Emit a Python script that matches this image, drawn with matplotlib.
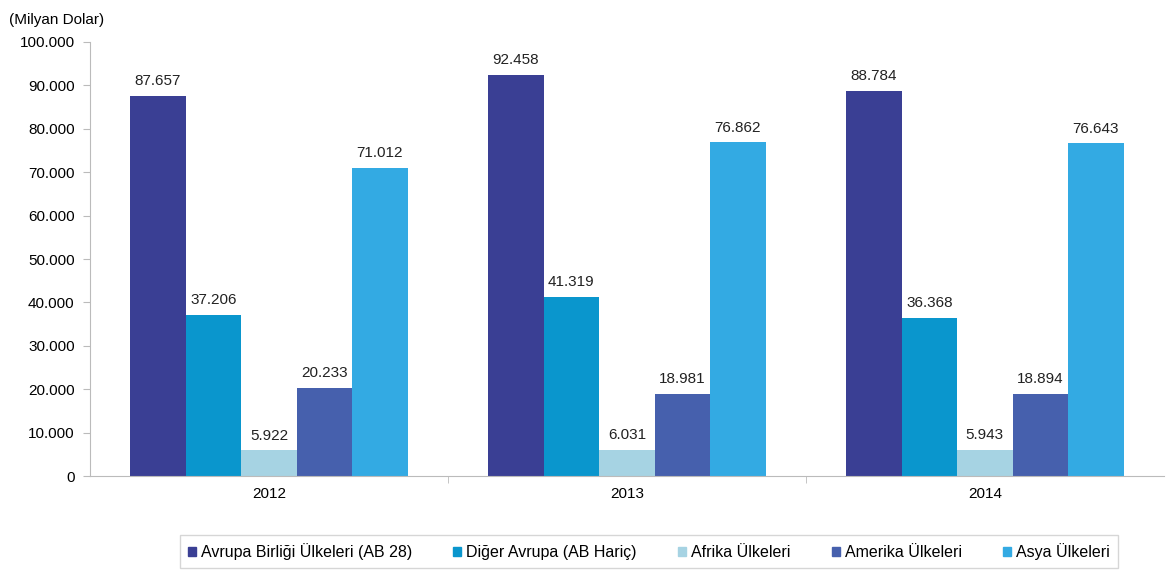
import numpy as np
import matplotlib.pyplot as plt
from matplotlib.patches import Patch

years = ["2012", "2013", "2014"]
series = ["Avrupa Birliği Ülkeleri (AB 28)", "Diğer Avrupa (AB Hariç)",
          "Afrika Ülkeleri", "Amerika Ülkeleri", "Asya Ülkeleri"]
ab28 = [87657, 92458, 88784]
diger_avrupa = [37206, 41319, 36368]
afrika = [5922, 6031, 5943]
amerika = [20233, 18981, 18894]
asya = [71012, 76862, 76643]
colors = ["#3A3F94", "#0A96CD", "#A6D3E3", "#4660AD", "#33AAE3"]

plt.rcParams["font.family"] = ["Liberation Sans", "DejaVu Sans"]

def fmt(v):
    return f"{v:,.0f}".replace(",", ".")

fig = plt.figure(figsize=(11.73, 5.72), dpi=100)
ax = fig.add_axes([0.0767, 0.1678, 0.9155, 0.7588])

x = np.arange(len(years))
w = 0.155
vals = [ab28, diger_avrupa, afrika, amerika, asya]
for i, (v, c) in enumerate(zip(vals, colors)):
    pos = x + (i - 2) * w
    ax.bar(pos, v, width=w, color=c, label=series[i])
    for px, pv in zip(pos, v):
        ax.text(px, pv + 1800, fmt(pv), ha="center", va="bottom", fontsize=11, color="#222222")

ax.set_xlim(-0.5, 2.5)
ax.set_ylim(0, 100000)
ax.set_yticks(np.arange(0, 100001, 10000))
ax.set_yticklabels([fmt(t) for t in np.arange(0, 100001, 10000)], fontsize=11)
ax.set_xticks(x)
ax.set_xticklabels(years, fontsize=11)
ax.tick_params(axis="x", length=0, pad=8)
ax.set_xticks([0.5, 1.5], minor=True)
ax.tick_params(axis="x", which="minor", length=5, color="#BBBBBB")
ax.tick_params(axis="y", length=5, color="#BBBBBB", pad=6)
for s in ["top", "right"]:
    ax.spines[s].set_visible(False)
for s in ["left", "bottom"]:
    ax.spines[s].set_color("#BBBBBB")

fig.text(0.008, 0.965, "(Milyan Dolar)", fontsize=11, ha="left", va="center")

handles = [Patch(color=c) for c in colors]
leg = fig.legend(handles, series, loc="center", bbox_to_anchor=(0.553, 0.036), ncol=5,
                 fontsize=11.5, handlelength=0.5, handleheight=0.5, handletextpad=0.3,
                 columnspacing=2.6, frameon=True, fancybox=False, borderpad=0.5)
leg.get_frame().set_edgecolor("#CCCCCC")
leg.get_frame().set_linewidth(1.0)

fig.savefig("out.png", dpi=100)
